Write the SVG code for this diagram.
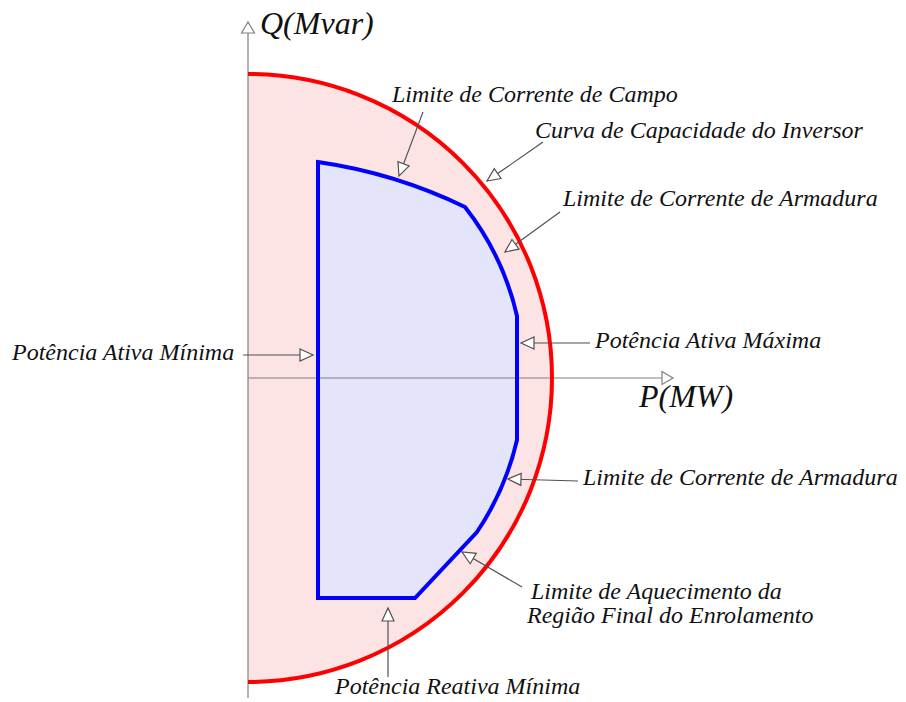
<svg xmlns="http://www.w3.org/2000/svg" width="906" height="702" viewBox="0 0 906 702">
<defs>
<style>
.lbl{font-family:"Liberation Serif","Times New Roman",serif;font-style:italic;font-size:24px;fill:#111}
.axl{font-family:"Liberation Serif","Times New Roman",serif;font-style:italic;font-size:32px;fill:#111}
.axis{stroke:#808080;stroke-width:1.2;fill:none}
.ptr{stroke:#505050;stroke-width:1.2;fill:none;marker-end:url(#tri)}
</style>
<marker id="tri" markerUnits="userSpaceOnUse" markerWidth="16" markerHeight="14" refX="13" refY="6" orient="auto" overflow="visible">
<path d="M0,0 L13,6 L0,12 Z" fill="#fff" stroke="#505050" stroke-width="1.2"/>
</marker>
<marker id="axtri" markerUnits="userSpaceOnUse" markerWidth="16" markerHeight="14" refX="11" refY="6.5" orient="auto" overflow="visible">
<path d="M0,0 L11,6.5 L0,13 Z" fill="#fff" stroke="#808080" stroke-width="1.2"/>
</marker>
</defs>
<rect width="906" height="702" fill="#fff"/>
<g id="inverter-capability">
<path d="M248,74 A304,304 0 0 1 248,682 Z" fill="#fde4e4"/>
</g>
<g id="operating-region">
<path d="M318,162 A500,500 0 0 1 465,207 A276,276 0 0 1 517,316 L517,440 A276,276 0 0 1 477,532 L415,598 L318,598 Z" fill="#e4e4fa"/>
</g>
<g id="axes">
<line class="axis" x1="248" y1="698" x2="248" y2="22" marker-end="url(#axtri)"/>
<line class="axis" x1="248" y1="378" x2="673" y2="378" marker-end="url(#axtri)"/>
<text class="axl" x="260" y="34">Q(Mvar)</text>
<text class="axl" x="639" y="407">P(MW)</text>
</g>
<g id="curves">
<path d="M248,74 A304,304 0 0 1 248,682" fill="none" stroke="#ff0000" stroke-width="4"/>
<path d="M318,162 A500,500 0 0 1 465,207 A276,276 0 0 1 517,316 L517,440 A276,276 0 0 1 477,532 L415,598 L318,598 Z" fill="none" stroke="#0000ff" stroke-width="4" stroke-linejoin="miter"/>
</g>
<g id="connectors">
<line class="ptr" x1="243" y1="355" x2="313" y2="355"/>
<line class="ptr" x1="590" y1="343" x2="521" y2="343"/>
<line class="ptr" x1="423" y1="112" x2="399" y2="176"/>
<line class="ptr" x1="543" y1="142" x2="487" y2="181"/>
<line class="ptr" x1="560" y1="212" x2="505" y2="252"/>
<line class="ptr" x1="578" y1="481" x2="508" y2="479"/>
<line class="ptr" x1="522" y1="587" x2="462" y2="552"/>
<line class="ptr" x1="388" y1="677" x2="388" y2="608"/>
</g>
<g id="label-min-active"><text class="lbl" x="12" y="360">Potência Ativa Mínima</text></g>
<g id="label-max-active"><text class="lbl" x="595" y="348">Potência Ativa Máxima</text></g>
<g id="label-field"><text class="lbl" x="392" y="102">Limite de Corrente de Campo</text></g>
<g id="label-inverter"><text class="lbl" x="535" y="138">Curva de Capacidade do Inversor</text></g>
<g id="label-armature-upper"><text class="lbl" x="563" y="206">Limite de Corrente de Armadura</text></g>
<g id="label-armature-lower"><text class="lbl" x="583" y="485">Limite de Corrente de Armadura</text></g>
<g id="label-end-region">
<text class="lbl" x="531" y="599">Limite de Aquecimento da</text>
<text class="lbl" x="527" y="623">Região Final do Enrolamento</text>
</g>
<g id="label-min-reactive"><text class="lbl" x="335" y="694">Potência Reativa Mínima</text></g>
</svg>
